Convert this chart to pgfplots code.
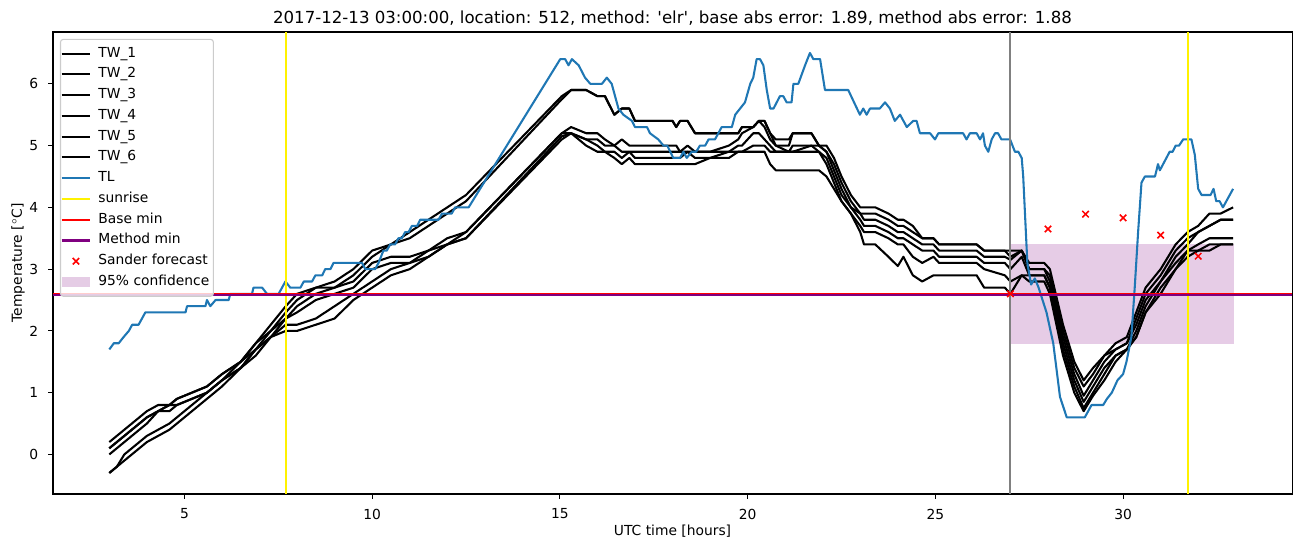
\documentclass[border=0pt]{standalone}
\usepackage{pgfplots}
\usepackage{pgfplotstable}
\pgfplotsset{compat=1.18}
\usepackage{fontspec}
\setmainfont{DejaVu Sans}
\newfontfamily\plainfont{DejaVu Sans}
\definecolor{tabblue}{RGB}{31,119,180}
\definecolor{mplpurple}{RGB}{128,0,128}
\definecolor{legedge}{RGB}{204,204,204}
\pgfplotsset{
  lineleg/.style={legend image code/.code={\path[draw=none,fill=none] (0pt,-3.5pt) rectangle (20.9pt,3.5pt); \draw[##1] (0pt,0pt) -- (20.9pt,0pt);}},
  markleg/.style={legend image code/.code={\path[draw=none,fill=none] (0pt,-3.5pt) rectangle (20.9pt,3.5pt); \draw[##1] plot coordinates {(10.45pt,0pt)};}},
  arealeg/.style={legend image code/.code={\path[draw=none,fill=none] (0pt,-3.5pt) rectangle (20.9pt,3.5pt); \fill[##1, sharp corners] (0pt,-3.4pt) rectangle (20.9pt,3.4pt);}},
}
\pgfplotstableread{
t c1 c2 c3 c4 c5 c6
3.0 0.2 0.1 0.1 0.0 -0.3 -0.3
3.2 0.3 0.2 0.2 0.1 -0.2 -0.2
3.4 0.4 0.3 0.3 0.2 0.0 -0.1
3.6 0.5 0.4 0.4 0.3 0.1 0.0
3.8 0.6 0.5 0.5 0.4 0.2 0.1
4.0 0.7 0.6 0.6 0.5 0.3 0.2
4.3 0.8 0.7 0.7 0.7 0.4 0.3
4.6 0.8 0.8 0.8 0.7 0.5 0.4
4.8 0.9 0.9 0.8 0.8 0.6 0.5
5.2 1.0 1.0 0.9 0.9 0.8 0.7
5.6 1.1 1.1 1.0 1.0 1.0 0.9
6.0 1.3 1.3 1.2 1.2 1.2 1.1
6.5 1.5 1.5 1.5 1.4 1.4 1.4
6.9 1.8 1.8 1.7 1.7 1.7 1.6
7.3 2.1 2.0 2.0 1.9 1.9 1.9
7.7 2.4 2.3 2.2 2.2 2.1 2.0
8.0 2.6 2.5 2.4 2.3 2.1 2.0
8.5 2.7 2.7 2.6 2.5 2.2 2.1
9.0 2.8 2.7 2.7 2.6 2.4 2.2
9.5 3.0 2.9 2.8 2.7 2.6 2.5
10.0 3.3 3.2 3.1 3.0 2.8 2.7
10.5 3.4 3.4 3.2 3.1 3.0 2.9
11.0 3.6 3.5 3.2 3.1 3.1 3.0
11.5 3.8 3.7 3.3 3.3 3.2 3.2
12.0 4.0 3.9 3.5 3.4 3.4 3.4
12.5 4.2 4.1 3.6 3.6 3.5 3.5
15.05 5.8 5.75 5.2 5.2 5.15 5.1
15.3 5.9 5.9 5.3 5.2 5.2 5.2
15.7 5.9 5.9 5.2 5.1 5.1 5.0
16.0 5.8 5.8 5.2 5.1 5.0 4.9
16.2 5.8 5.8 5.1 5.0 4.9 4.9
16.45 5.5 5.5 5.0 5.0 4.9 4.8
16.65 5.6 5.6 5.1 4.9 4.8 4.7
16.85 5.6 5.6 5.0 4.9 4.9 4.8
17.0 5.4 5.4 5.0 4.9 4.8 4.7
18.0 5.4 5.4 5.0 4.9 4.8 4.7
18.1 5.3 5.3 5.0 4.9 4.8 4.7
18.2 5.4 5.4 4.9 4.9 4.8 4.7
18.4 5.4 5.4 5.0 4.9 4.9 4.7
18.6 5.2 5.2 4.9 4.9 4.8 4.7
19.0 5.2 5.2 4.9 4.9 4.8 4.8
19.5 5.2 5.2 5.0 4.9 4.9 4.8
19.75 5.2 5.2 5.1 5.0 4.9 4.9
19.85 5.3 5.3 5.2 5.0 4.9 4.9
20.15 5.3 5.3 5.3 5.2 5.0 4.9
20.3 5.4 5.4 5.4 5.2 5.0 4.9
20.45 5.4 5.4 5.3 5.1 5.0 4.9
20.6 5.2 5.2 5.1 5.0 4.9 4.7
20.75 5.1 5.0 5.0 4.9 4.9 4.6
21.1 5.1 5.0 4.9 4.9 4.9 4.6
21.2 5.2 5.2 5.0 4.9 4.9 4.6
21.7 5.2 5.2 5.0 5.0 4.9 4.6
21.9 5.0 5.0 5.0 4.9 4.9 4.6
22.1 5.0 4.9 4.9 4.8 4.7 4.5
22.3 4.8 4.7 4.6 4.5 4.4 4.3
22.5 4.5 4.4 4.3 4.2 4.1 4.1
22.75 4.2 4.1 4.0 4.0 3.9 3.9
23.0 4.0 3.9 3.9 3.8 3.7 3.6
23.1 4.0 3.9 3.8 3.7 3.6 3.4
23.4 4.0 3.9 3.8 3.7 3.6 3.4
23.75 3.9 3.8 3.7 3.6 3.5 3.2
24.0 3.8 3.7 3.6 3.5 3.4 3.05
24.15 3.8 3.7 3.6 3.5 3.4 3.2
24.4 3.7 3.6 3.5 3.4 3.2 2.9
24.65 3.5 3.5 3.4 3.3 3.1 2.8
24.95 3.5 3.5 3.4 3.3 3.2 2.9
25.1 3.4 3.4 3.3 3.2 3.1 2.9
26.1 3.4 3.4 3.3 3.2 3.1 2.9
26.3 3.3 3.3 3.2 3.1 3.0 2.7
26.85 3.3 3.3 3.2 3.1 2.9 2.7
27.0 3.3 3.2 3.15 3.0 2.8 2.6
27.3 3.3 3.3 3.3 3.2 2.9 2.9
27.5 3.1 3.0 3.0 2.9 2.9 2.8
27.9 3.1 3.0 3.0 2.9 2.9 2.8
28.05 3.0 2.9 2.8 2.7 2.7 2.6
28.4 2.1 2.0 1.9 1.8 1.7 1.6
28.7 1.5 1.4 1.3 1.2 1.1 1.0
28.95 1.2 1.1 0.95 0.85 0.75 0.7
29.2 1.4 1.3 1.2 1.1 1.0 0.95
29.5 1.6 1.6 1.5 1.4 1.3 1.2
29.8 1.8 1.7 1.7 1.6 1.6 1.5
30.1 1.9 1.8 1.8 1.7 1.7 1.7
30.35 2.3 2.2 2.1 2.0 1.9 1.9
30.6 2.7 2.6 2.5 2.4 2.3 2.3
31.0 3.0 2.9 2.8 2.8 2.7 2.6
31.4 3.4 3.3 3.2 3.1 3.0 3.0
31.72 3.6 3.5 3.4 3.3 3.3 3.2
32.0 3.7 3.6 3.6 3.4 3.3 3.3
32.3 3.9 3.7 3.7 3.5 3.4 3.3
32.6 3.9 3.8 3.8 3.5 3.4 3.4
32.93 4.0 3.8 3.8 3.5 3.4 3.4
}\twdata
\pgfplotstableread{
t v
3.0 1.7
3.12 1.8
3.25 1.8
3.38 1.9
3.52 2.0
3.61 2.1
3.78 2.1
3.87 2.2
3.96 2.3
5.03 2.3
5.07 2.4
5.56 2.4
5.6 2.5
5.69 2.4
5.83 2.5
6.18 2.5
6.22 2.6
6.8 2.6
6.84 2.7
7.07 2.7
7.2 2.6
7.51 2.6
7.69 2.8
7.82 2.7
8.09 2.7
8.18 2.8
8.4 2.8
8.49 2.9
8.67 2.9
8.75 3.0
8.89 3.0
8.97 3.1
9.73 3.1
9.82 3.0
10.08 3.0
10.17 3.1
10.3 3.3
10.39 3.3
10.48 3.4
10.61 3.4
10.7 3.5
10.79 3.5
10.88 3.6
10.97 3.6
11.06 3.7
11.2 3.7
11.28 3.8
11.77 3.8
11.86 3.9
12.12 3.9
12.21 4.0
12.57 4.0
15.01 6.4
15.14 6.4
15.23 6.3
15.32 6.4
15.5 6.3
15.67 6.1
15.81 6.0
16.12 6.0
16.25 6.1
16.38 6.0
16.47 5.8
16.56 5.6
16.69 5.5
16.92 5.4
17.0 5.3
17.32 5.3
17.4 5.2
17.62 5.1
17.76 5.0
17.86 5.0
17.94 4.9
18.02 4.8
18.2 4.8
18.29 4.9
18.38 4.8
18.51 4.9
18.63 4.9
18.73 5.0
18.87 5.0
18.96 5.1
19.13 5.1
19.22 5.2
19.31 5.3
19.58 5.3
19.67 5.5
19.8 5.6
19.93 5.7
20.07 6.0
20.15 6.1
20.24 6.4
20.33 6.4
20.42 6.3
20.51 5.9
20.6 5.6
20.69 5.6
20.86 5.8
20.95 5.8
21.04 5.7
21.17 5.7
21.22 6.0
21.35 6.0
21.53 6.3
21.66 6.5
21.75 6.4
21.93 6.4
22.06 5.9
22.68 5.9
22.99 5.5
23.08 5.6
23.17 5.5
23.26 5.6
23.52 5.6
23.66 5.7
23.79 5.6
23.92 5.4
24.06 5.5
24.24 5.3
24.41 5.4
24.5 5.4
24.59 5.2
24.86 5.2
24.99 5.1
25.08 5.2
25.74 5.2
25.83 5.1
25.92 5.2
26.1 5.2
26.19 5.1
26.27 5.2
26.32 5.0
26.41 4.9
26.5 5.1
26.59 5.2
26.67 5.2
26.76 5.1
26.99 5.1
27.12 4.9
27.21 4.9
27.3 4.8
27.34 4.5
27.45 3.1
27.55 2.75
27.65 2.85
27.75 2.7
27.96 2.3
28.14 1.8
28.32 0.93
28.5 0.6
28.98 0.6
29.16 0.8
29.47 0.8
29.57 0.9
29.7 1.0
29.85 1.2
30.0 1.3
30.09 1.5
30.22 1.9
30.31 2.7
30.4 3.6
30.49 4.4
30.58 4.5
30.85 4.5
30.93 4.7
30.98 4.6
31.24 4.9
31.32 4.9
31.4 5.0
31.49 5.0
31.6 5.1
31.82 5.1
31.91 4.85
32.0 4.3
32.09 4.2
32.33 4.2
32.41 4.3
32.48 4.1
32.57 4.1
32.66 4.0
32.93 4.3
}\tldata
\begin{document}
\begin{tikzpicture}
\begin{axis}[
  at={(0pt,0pt)}, anchor=south west,
  scale only axis, width=895.5pt, height=333.9pt,
  xmin=1.5, xmax=34.5, ymin=-0.64, ymax=6.84,
  xtick={5,10,15,20,25,30}, ytick={0,1,2,3,4,5,6},
  tick align=outside, xtick pos=left, ytick pos=left,
  major tick length=3.5pt,
  every tick/.style={black, line width=0.8pt},
  axis line style={black, line width=0.8pt},
  font=\fontsize{10}{12}\selectfont,
  /pgf/number format/assume math mode=true,
  ticklabel style={font=\fontsize{10}{12}\selectfont},
  xticklabel style={anchor=north, inner sep=0pt, yshift=-7pt},
  yticklabel style={anchor=east, inner sep=0pt, xshift=-7pt},
  title={2017-12-13 03:00:00, location: 512, method: 'elr', base abs error: 1.89, method abs error: 1.88},
  title style={at={(axis description cs:0.5,1)}, anchor=base, inner sep=0pt, font=\plainfont\fontsize{12}{14}\selectfont},
  xlabel={UTC time [hours]},
  xlabel style={at={(axis description cs:0.5,0)}, anchor=north, yshift=-22pt, inner sep=0pt},
  ylabel={Temperature [$^\circ$C]},
  ylabel style={at={(axis description cs:-0.0226,0.5)}, anchor=south, inner sep=0pt},
  legend cell align=left,
  legend style={at={(axis description cs:0,1)}, anchor=north west, xshift=5pt, yshift=-5pt,
    draw=legedge, line width=0.8pt, fill=white, fill opacity=0.8, text opacity=1, draw opacity=1,
    rounded corners=2pt, inner xsep=0pt, inner ysep=2.8pt, row sep=0pt,
    font=\fontsize{10}{12}\selectfont,
    nodes={inner xsep=3pt, inner ysep=2.5pt, text height=7.5pt, text depth=2.5pt},
    /tikz/every odd column/.append style={column sep=2pt}},
  lineleg,
]
\addplot[fill=mplpurple, fill opacity=0.2, draw=none, forget plot] coordinates {(27,1.78) (32.95,1.78) (32.95,3.41) (27,3.41)} -- cycle;
\addplot[black, line width=1.5pt, line join=round, forget plot] table[x=t, y=c1] {\twdata};
\addplot[black, line width=1.5pt, line join=round, forget plot] table[x=t, y=c2] {\twdata};
\addplot[black, line width=1.5pt, line join=round, forget plot] table[x=t, y=c3] {\twdata};
\addplot[black, line width=1.5pt, line join=round, forget plot] table[x=t, y=c4] {\twdata};
\addplot[black, line width=1.5pt, line join=round, forget plot] table[x=t, y=c5] {\twdata};
\addplot[black, line width=1.5pt, line join=round, forget plot] table[x=t, y=c6] {\twdata};
\addplot[tabblue, line width=1.5pt, line join=round, forget plot] table[x=t, y=v] {\tldata};
\addplot[yellow, line width=1.5pt, forget plot] coordinates {(7.71,-0.64) (7.71,6.84)};
\addplot[yellow, line width=1.5pt, forget plot] coordinates {(31.72,-0.64) (31.72,6.84)};
\addplot[red, line width=1.5pt, forget plot] coordinates {(1.5,2.603) (34.5,2.603)};
\addplot[mplpurple, line width=1.5pt, forget plot] coordinates {(1.5,2.588) (34.5,2.588)};
\addplot[gray, line width=1.5pt, forget plot] coordinates {(27,-0.64) (27,6.84)};
\addplot[only marks, red, mark=x, mark size=3.3pt, mark options={line width=1.1pt}, forget plot] coordinates {(27,2.6) (28,3.65) (29,3.89) (30,3.83) (31,3.55) (32,3.21)};
\addlegendimage{black, line width=1.5pt}\addlegendentry{TW\_1}
\addlegendimage{black, line width=1.5pt}\addlegendentry{TW\_2}
\addlegendimage{black, line width=1.5pt}\addlegendentry{TW\_3}
\addlegendimage{black, line width=1.5pt}\addlegendentry{TW\_4}
\addlegendimage{black, line width=1.5pt}\addlegendentry{TW\_5}
\addlegendimage{black, line width=1.5pt}\addlegendentry{TW\_6}
\addlegendimage{tabblue, line width=1.5pt}\addlegendentry{TL}
\addlegendimage{yellow, line width=1.5pt}\addlegendentry{sunrise}
\addlegendimage{red, line width=1.5pt}\addlegendentry{Base min}
\addlegendimage{mplpurple, line width=1.5pt}\addlegendentry{Method min}
\addlegendimage{markleg, red, mark=x, mark size=3.3pt, line width=1.1pt}\addlegendentry{Sander forecast}
\addlegendimage{arealeg, fill=mplpurple, fill opacity=0.2, draw=none}\addlegendentry{95\% confidence}
\end{axis}
\pgfresetboundingbox
\path[use as bounding box] (-38.3pt,-38.3pt) rectangle (902.7pt,357.0pt);
\end{tikzpicture}
\end{document}
